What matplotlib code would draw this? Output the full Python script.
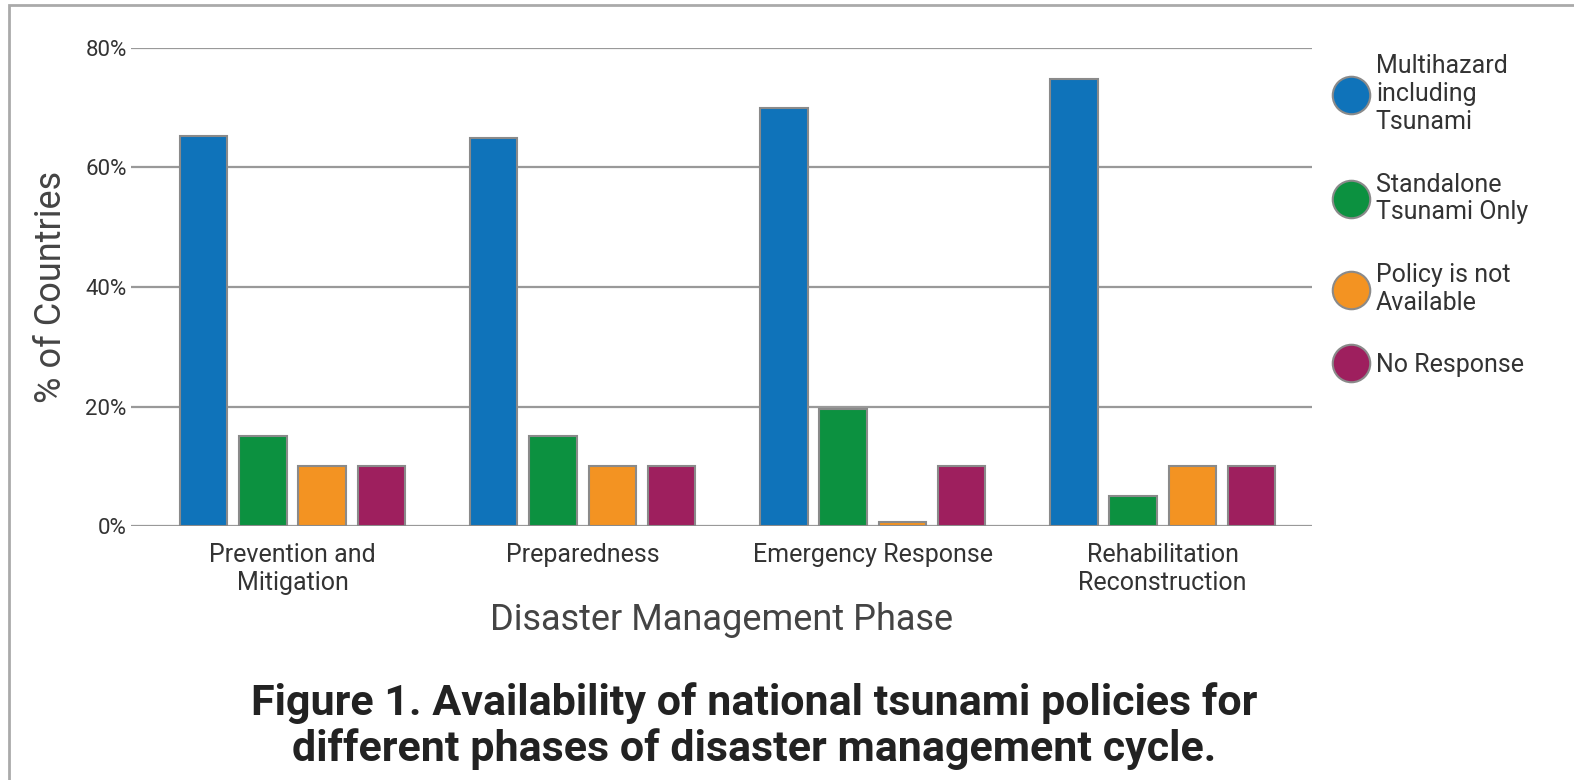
import numpy as np
import matplotlib.pyplot as plt
from matplotlib.lines import Line2D
from matplotlib.patches import Rectangle

plt.rcParams['font.family'] = ['Roboto', 'DejaVu Sans']

phases = ['Prevention and\nMitigation', 'Preparedness', 'Emergency Response',
          'Rehabilitation\nReconstruction']
series_names = ['Multihazard\nincluding\nTsunami', 'Standalone\nTsunami Only',
                'Policy is not\nAvailable', 'No Response']
multihazard = [65.3, 65.0, 70.0, 74.8]
standalone = [15.0, 15.0, 19.6, 5.0]
not_available = [10.0, 10.0, 0.7, 10.0]
no_response = [10.0, 10.0, 10.0, 10.0]
colors = ['#0f73ba', '#0c9140', '#f39322', '#9e1f5e']
yticks = [0, 20, 40, 60, 80]

fig = plt.figure(figsize=(15.74, 7.8), dpi=100)
ax = fig.add_axes([0.0832, 0.3256, 0.7504, 0.6129])

# frame round the figure (left and top edges visible)
fig.patches.append(Rectangle((0.0055, -0.05), 1.1, 1.0436, transform=fig.transFigure,
                             fill=False, edgecolor='#aaaaaa', linewidth=2.0))

x = np.arange(len(phases))
width = 0.163
step = 0.204
all_vals = [multihazard, standalone, not_available, no_response]
for i, vals in enumerate(all_vals):
    ax.bar(x + (i - 1.5) * step, vals, width, color=colors[i],
           edgecolor='#8a8a8a', linewidth=1.5, zorder=3)

ax.set_xlim(-0.557, 3.515)
ax.set_ylim(0, 80)
ax.set_yticks(yticks)
ax.set_yticklabels([f'{v}%' for v in yticks], fontsize=16, color='#333333')
ax.yaxis.grid(True, color='#999999', linewidth=1.6, zorder=0)
ax.set_axisbelow(True)
ax.tick_params(axis='y', length=0, pad=3)
ax.tick_params(axis='x', length=0, pad=12)
ax.set_xticks(x)
ax.set_xticklabels(phases, fontsize=18, color='#333333', linespacing=1.25)
for s in ax.spines.values():
    s.set_visible(False)

ax.set_ylabel('% of Countries', fontsize=26, color='#444444', labelpad=12)
ax.set_xlabel('Disaster Management Phase', fontsize=26, color='#444444', labelpad=5)

handles = [Line2D([], [], marker='o', linestyle='none', markersize=27,
                  markerfacecolor=c, markeredgecolor='#8a8a8a', markeredgewidth=1.5)
           for c in colors]
leg = fig.legend(handles, series_names, loc='upper left', bbox_to_anchor=(0.832, 0.959),
                 frameon=False, fontsize=18, labelspacing=1.54, handletextpad=0.25,
                 handlelength=1.5, labelcolor='#333333')
for t in leg.get_texts():
    t.set_linespacing(1.2)

fig.text(0.479, 0.069, 'Figure 1. Availability of national tsunami policies for\n'
         'different phases of disaster management cycle.',
         ha='center', va='center', fontsize=31, fontweight='bold', color='#222222',
         linespacing=1.12)

fig.savefig('out.png', dpi=100)
